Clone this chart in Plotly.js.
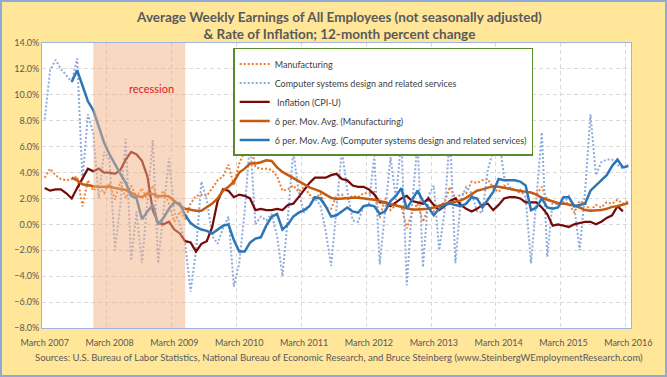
<!DOCTYPE html>
<html><head><meta charset="utf-8">
<script src="https://cdn.plot.ly/plotly-3.0.1.min.js"></script>
<style>
html,body{margin:0;padding:0;background:#FFE699;}
#wrap{position:relative;width:667px;height:377px;overflow:hidden;}
#chart{width:667px;height:377px;}
#frame{position:absolute;left:0;top:0;width:667px;height:377px;box-sizing:border-box;border:2px solid #8EAADB;pointer-events:none;}
</style></head>
<body><div id="wrap"><div id="chart"></div><div id="frame"></div></div>
<script>
// Month index 0 = March 2007 ... 108 = March 2016
const tickLabels = ['March 2007','March 2008','March 2009','March 2010','March 2011','March 2012','March 2013','March 2014','March 2015','March 2016'];

const manufacturing = [
 3.6, 4.3, 3.8, 3.5, 3.4, 3.5, 3.7, 1.4, 3.4, 2.6, 3.0, 2.4,
 3.2, 1.9, 3.3, 2.0, 3.0, 2.1, 2.8, 1.9, 3.0, 2.0, 2.6, 1.6,
 0.2, 1.0, 0.4, 1.6, 2.2, 2.3, 2.2, 2.8, 3.4, 3.7, 4.6, 3.0,
 4.7, 5.6, 6.5, 4.4, 4.3, 4.3, 4.2, 3.7, 2.6, 2.7, 3.0, 2.5,
 2.9, 2.3, 1.9, 2.4, 1.3, 1.2, 2.2, 2.3, 1.9, 2.2, 2.1, 2.4,
 2.4, 2.5, 0.5, 2.0, 1.1, 1.5, 1.4, -0.3, 0.9, 1.6, 0.2, 1.3,
 1.0, 1.4, 1.7, 2.9, 2.0, 2.3, 2.4, 3.3, 3.2, 3.4, 3.5, 2.8,
 2.5, 3.0, 2.7, 2.7, 2.4, 2.5, 2.5, 2.3, 2.9, 1.9, 1.8, 1.5,
 1.7, 1.6, 0.9, 1.8, 1.6, 1.1, 1.5, 1.3, 1.7, 1.6, 1.9, 1.6, 1.8
];

const computerSystems = [
 8.1, 11.9, 12.7, 12.0, 11.5, 11.0, 12.8, 3.4, 8.5, 7.0, 2.0, 5.6,
 5.0, -2.0, 1.5, 6.6, -2.8, 1.0, -3.0, 1.5, 6.5, -3.0, 0.8, 5.1,
 0.9, 0.1, -1.5, -5.2, -2.0, 3.3, 1.9, -0.9, -1.5, -0.3, 0.6, -4.8,
 -3.0, 1.0, 6.5, 0.0, 0.6, 0.3, 0.8, -0.9, -4.0, 0.5, 5.7, 2.5,
 0.9, 1.5, 2.0, 1.5, -0.5, -3.2, 1.5, 5.7, 2.6, 0.3, 0.2, 1.4,
 1.5, 5.3, -3.1, 0.9, 5.2, 1.9, 6.6, -4.7, 1.5, 6.4, -3.3, 2.2,
 3.0, -2.0, 1.0, 7.1, -3.0, 1.9, 2.9, 2.4, 1.0, 0.9, 4.2, 5.7,
 6.9, 3.7, 2.9, 2.6, 2.7, 2.1, -3.0, 2.0, 7.1, -2.5, 1.8, 1.5,
 1.6, 2.2, 1.4, -2.0, 2.5, 8.5, 3.8, 4.8, 5.0, 5.0, 4.6, 4.3, 4.6
];

const inflation = [
 2.8, 2.6, 2.7, 2.7, 2.4, 2.0, 2.8, 3.5, 4.3, 4.1,
 4.3, 4.0, 4.0, 3.9, 4.2, 5.0, 5.6, 5.4, 4.9, 3.7, 1.1, 0.1,
 0.0, 0.2, -0.4, -0.7, -1.3, -1.4, -2.1, -1.5, -1.3, -0.2, 1.8, 2.7,
 2.6, 2.1, 2.3, 2.2, 2.0, 1.1, 1.2, 1.1, 1.1, 1.2, 1.1, 1.5,
 1.6, 2.1, 2.7, 3.2, 3.6, 3.6, 3.6, 3.8, 3.9, 3.5, 3.4, 3.0,
 2.9, 2.9, 2.7, 2.3, 1.7, 1.7, 1.4, 1.7, 2.0, 2.2, 1.8, 1.7,
 1.6, 2.0, 1.5, 1.1, 1.4, 1.8, 2.0, 1.5, 1.2, 1.0, 1.2, 1.5,
 1.6, 1.1, 1.5, 2.0, 2.1, 2.1, 2.0, 1.7, 1.7, 1.7, 1.3, 0.8,
 -0.1, 0.0, -0.1, -0.2, 0.0, 0.1, 0.2, 0.2, 0.0, 0.2, 0.5, 0.7,
 1.4, 1.0, null
];

const maManufacturing = [
 null, null, null, null, null, 3.6, 3.4, 3.1, 3.0, 2.95, 2.9, 2.9,
 2.9, 2.8, 2.75, 2.65, 2.45, 2.2, 2.1, 2.4, 2.35, 2.15, 2.2, 2.15,
 1.8, 1.45, 1.2, 1.1, 1.05, 1.05, 1.3, 1.6, 2.0, 2.6, 2.9, 3.3,
 4.0, 4.3, 4.7, 4.7, 4.8, 4.95, 4.9, 4.4, 4.05, 3.8, 3.55, 3.3,
 3.05, 2.85, 2.7, 2.55, 2.3, 2.05, 1.95, 2.0, 2.05, 2.05, 2.05, 2.0,
 2.0, 1.9, 1.8, 1.65, 1.55, 1.45, 1.35, 1.2, 1.15, 1.15, 1.15, 1.2,
 1.3, 1.45, 1.6, 1.7, 1.75, 1.85, 2.05, 2.3, 2.6, 2.7, 2.85, 2.95,
 2.9, 2.85, 2.75, 2.65, 2.6, 2.55, 2.45, 2.3, 2.05, 1.9, 1.75, 1.65,
 1.6, 1.55, 1.45, 1.3, 1.1, 1.05, 1.05, 1.1, 1.2, 1.35, 1.4, 1.5, 1.65
];

const maComputer = [
 null, null, null, null, null, 11.0, 11.9, 10.7, 9.5, 8.8, 7.6, 6.3,
 5.4, 4.6, 3.9, 3.2, 2.2, 2.0, 0.4, 1.0, 1.5, 0.0, 0.5, 1.2,
 1.7, 1.6, 0.7, 0.1, -0.2, -0.4, -0.5, -0.7, -0.4, -0.1, 0.0, -1.2,
 -2.1, -2.1, -1.4, -1.1, -1.0, -0.1, 0.6, 0.8, -0.4, 0.0, 0.6, 0.9,
 1.1, 1.4, 2.1, 2.0, 1.4, 0.6, 0.7, 1.0, 1.3, 1.0, 0.9, 1.4,
 1.5, 1.4, 0.8, 1.0, 1.8, 2.2, 2.8, 1.2, 1.9, 2.6, 1.8, 1.3,
 0.7, 1.2, 1.5, 1.6, 1.5, 1.4, 1.6, 2.1, 2.0, 1.3, 1.9, 2.5,
 3.5, 3.4, 3.4, 3.4, 3.3, 3.0, 1.1, 1.3, 2.0, 1.3, 1.2, 1.3,
 2.1, 2.1, 1.4, 1.5, 1.6, 2.6, 3.0, 3.4, 3.8, 4.5, 5.0, 4.4, 4.5
];

// recession: December 2007 to May 2009 (month indices)
const recessionStartMonth = 9;
const recessionEndMonth = 26;

const monthIndex = manufacturing.map((_, i) => i);
const tickMonths = tickLabels.map((_, i) => i * 12);

const dotted = '2px,2px';
const traces = [
  {name: 'Manufacturing', x: monthIndex, y: manufacturing, type: 'scatter', mode: 'lines',
   line: {color: '#ED7D31', width: 2, dash: dotted}},
  {name: 'Computer systems design and related services', x: monthIndex, y: computerSystems, type: 'scatter', mode: 'lines',
   line: {color: '#8FAADC', width: 2, dash: dotted}},
  {name: '\u00A0Inflation (CPI-U)', x: monthIndex, y: inflation, type: 'scatter', mode: 'lines',
   line: {color: '#760A0A', width: 2.25}},
  {name: '6 per. Mov. Avg. (Manufacturing)', x: monthIndex, y: maManufacturing, type: 'scatter', mode: 'lines',
   line: {color: '#C55A11', width: 2.5}},
  {name: '6 per. Mov. Avg. (Computer systems design and related services)', x: monthIndex, y: maComputer, type: 'scatter', mode: 'lines',
   line: {color: '#2E75B6', width: 2.5}}
];

const layout = {
  width: 667, height: 377,
  margin: {l: 42, r: 36, t: 43, b: 49, pad: 0},
  paper_bgcolor: '#FFE699', plot_bgcolor: '#FFFFFF',
  font: {family: 'Lato, sans-serif', color: '#595959', size: 9},
  title: {
    text: 'Average Weekly Earnings of All Employees (not seasonally adjusted)<br>& Rate of Inflation; 12-month percent change',
    font: {family: 'Lato, sans-serif', size: 13.5, color: '#595959', weight: 'bold'},
    x: 0.505, xref: 'paper', xanchor: 'center', y: 0.942, yref: 'container', yanchor: 'top'
  },
  xaxis: {
    range: [-0.5, 108.5], tickmode: 'array', tickvals: tickMonths, ticktext: tickLabels,
    showgrid: false, zeroline: false, showline: true, mirror: true, linecolor: '#9DB6E0', linewidth: 1,
    ticks: '', tickfont: {size: 9, color: '#595959'}, ticklabelstandoff: 6,
    minor: {tick0: -0.5, dtick: 12, showgrid: true, gridcolor: '#D9D9D9', griddash: '4px,3px', gridwidth: 1, ticks: ''}
  },
  yaxis: {
    range: [-8, 14], tickmode: 'linear', tick0: 0, dtick: 2, tickformat: '.1f', ticksuffix: '%',
    showgrid: true, gridcolor: '#D9D9D9', griddash: '4px,3px', gridwidth: 1,
    zeroline: false, showline: true, mirror: true, linecolor: '#9DB6E0', linewidth: 1,
    ticks: '', tickfont: {size: 9, color: '#595959'}
  },
  showlegend: true,
  legend: {
    x: 0.3246, y: 0.9825, xanchor: 'left', yanchor: 'top',
    bgcolor: '#FFFFFF', bordercolor: '#5B8A2E', borderwidth: 1.5,
    font: {size: 9, color: '#404040', family: 'Lato, sans-serif'}
  },
  shapes: [{
    type: 'rect', xref: 'x', yref: 'paper', x0: recessionStartMonth, x1: recessionEndMonth, y0: 0, y1: 1,
    fillcolor: '#F4B183', opacity: 0.5, line: {width: 0}, layer: 'above'
  }],
  annotations: [
    {text: 'recession', xref: 'x', yref: 'y', x: 19.8, y: 10.5, showarrow: false,
     font: {size: 11, color: '#E0161E', family: 'Lato, sans-serif'}},
    {text: 'Sources: U.S. Bureau of Labor Statistics, National Bureau of Economic Research, and Bruce Steinberg (www.SteinbergWEmploymentResearch.com)',
     xref: 'paper', yref: 'paper', x: 0.504, y: -0.104, xanchor: 'center', yanchor: 'middle', showarrow: false,
     font: {size: 9.5, color: '#595959', family: 'Lato, sans-serif'}}
  ]
};

Plotly.newPlot('chart', traces, layout, {staticPlot: true, displayModeBar: false});
</script></body></html>
